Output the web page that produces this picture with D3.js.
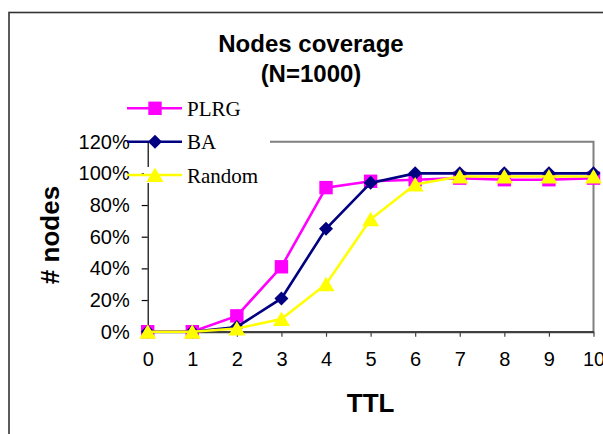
<!DOCTYPE html>
<html>
<head>
<meta charset="utf-8">
<script src="https://cdn.jsdelivr.net/npm/d3@7"></script>
<style>
  html, body { margin: 0; padding: 0; background: #fff; }
  svg { display: block; }
</style>
</head>
<body>
<svg id="chart" width="603" height="434"></svg>
<script>
// TTL steps on the x axis
const ttl = [0, 1, 2, 3, 4, 5, 6, 7, 8, 9, 10];
// Share of nodes reached, per topology
const plrg   = [0, 0, 0.10, 0.41, 0.91, 0.95, 0.96, 0.97, 0.96, 0.96, 0.97];
const ba     = [0, 0, 0.03, 0.21, 0.65, 0.94, 1.00, 1.00, 1.00, 1.00, 1.00];
const random = [0, 0, 0.02, 0.08, 0.30, 0.71, 0.93, 0.98, 0.98, 0.98, 0.98];
const seriesNames = ["PLRG", "BA", "Random"];
const yTicks = [0, 0.2, 0.4, 0.6, 0.8, 1.0, 1.2];

const series = [
  { name: seriesNames[0], values: plrg,   color: "#ff00ff", marker: "square" },
  { name: seriesNames[1], values: ba,     color: "#000080", marker: "diamond" },
  { name: seriesNames[2], values: random, color: "#ffff00", marker: "triangle" }
];

const svg = d3.select("#chart");
const SANS = "'Liberation Sans', Arial, sans-serif";
const SERIF = "'Liberation Serif', 'Times New Roman', serif";

const x = d3.scaleLinear().domain([0, 10]).range([147.7, 593.5]);
const y = d3.scaleLinear().domain([0, 1.2]).range([331.7, 141.7]);

function markerPath(kind) {
  if (kind === "square") return "M-6.7,-6.7H6.7V6.7H-6.7Z";
  if (kind === "diamond") return "M0,-7L7,0L0,7L-7,0Z";
  return "M0,-7.5L8.5,7H-8.5Z";
}

// Chart area outline
svg.append("rect")
  .attr("x", 9).attr("y", 12.5)
  .attr("width", 620).attr("height", 440)
  .attr("fill", "none").attr("stroke", "#333").attr("stroke-width", 1.6);

// Title
const title = svg.append("text")
  .attr("text-anchor", "middle")
  .attr("font-family", SANS).attr("font-weight", "bold")
  .attr("font-size", 24).attr("fill", "#000");
title.append("tspan").attr("x", 311).attr("y", 52).text("Nodes coverage");
title.append("tspan").attr("x", 311).attr("y", 82).text("(N=1000)");

// Plot frame (top and right edges)
svg.append("path")
  .attr("d", `M270,${y(1.2)}H${x(10)}V${y(0)}`)
  .attr("fill", "none").attr("stroke", "#808080").attr("stroke-width", 2);

// Y axis
const yAxis = svg.append("g")
  .attr("transform", `translate(${x(0)},0)`)
  .call(d3.axisLeft(y).tickValues(yTicks)
    .tickFormat(d3.format(".0%")).tickSize(6).tickPadding(12).tickSizeOuter(0));
yAxis.select(".domain").attr("stroke", "#000").attr("stroke-width", 1.2);
yAxis.selectAll(".tick line").attr("stroke", "#000").attr("stroke-width", 1.2);
yAxis.selectAll("text")
  .attr("font-family", SANS).attr("font-size", 20).attr("fill", "#000");

// X axis
const xAxis = svg.append("g")
  .attr("transform", `translate(0,${y(0)})`)
  .call(d3.axisBottom(x).tickValues(ttl)
    .tickFormat(d3.format("d")).tickSize(5).tickPadding(15).tickSizeOuter(0));
xAxis.select(".domain").attr("stroke", "#404040").attr("stroke-width", 2.2);
xAxis.selectAll(".tick line").attr("stroke", "#404040").attr("stroke-width", 1.2);
xAxis.selectAll("text")
  .attr("font-family", SANS).attr("font-size", 20).attr("fill", "#000");

// Series lines and markers
const line = d3.line().x((d, i) => x(ttl[i])).y(d => y(d));
series.forEach(s => {
  const g = svg.append("g");
  g.append("path")
    .attr("d", line(s.values))
    .attr("fill", "none").attr("stroke", s.color).attr("stroke-width", 2.6);
  g.selectAll("path.mk").data(s.values).join("path")
    .attr("class", "mk")
    .attr("d", markerPath(s.marker))
    .attr("transform", (d, i) => `translate(${x(ttl[i])},${y(d)})`)
    .attr("fill", s.color);
});

// Legend
const legendRows = [108.3, 141.7, 175];
const legend = svg.append("g");
series.forEach((s, i) => {
  const row = legend.append("g").attr("transform", `translate(0,${legendRows[i]})`);
  if (s.marker === "triangle") {
    row.append("rect").attr("x", 144).attr("y", -8).attr("width", 8).attr("height", 16)
      .attr("fill", "#fff");
  }
  row.append("line")
    .attr("x1", 127).attr("x2", 182).attr("y1", 0).attr("y2", 0)
    .attr("stroke", s.color).attr("stroke-width", 2.6);
  row.append("path").attr("d", markerPath(s.marker))
    .attr("transform", "translate(155,0)").attr("fill", s.color);
  row.append("text")
    .attr("x", 187).attr("y", 7.7)
    .attr("font-family", SERIF).attr("font-size", 21).attr("fill", "#000")
    .text(s.name);
});

// Axis titles
svg.append("text")
  .attr("x", (x(0) + x(10)) / 2).attr("y", 412)
  .attr("text-anchor", "middle")
  .attr("font-family", SANS).attr("font-weight", "bold").attr("font-size", 26)
  .text("TTL");
svg.append("text")
  .attr("transform", "translate(59,235) rotate(-90)")
  .attr("text-anchor", "middle")
  .attr("font-family", SANS).attr("font-weight", "bold").attr("font-size", 26)
  .text("# nodes");
</script>
</body>
</html>
